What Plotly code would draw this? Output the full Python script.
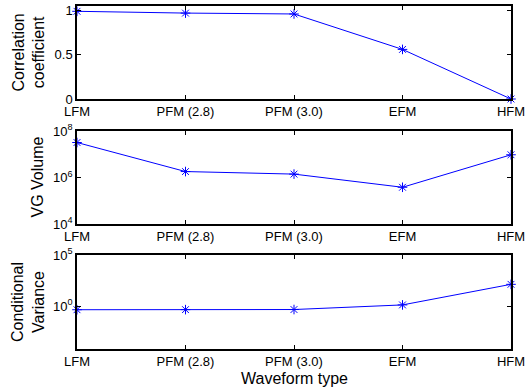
import plotly.graph_objects as go
from plotly.subplots import make_subplots

categories = ["LFM", "PFM (2.8)", "PFM (3.0)", "EFM", "HFM"]
corr = [0.99, 0.97, 0.96, 0.56, 0.0]
vg_volume = [3.2e7, 1.8e6, 1.4e6, 3.8e5, 9.5e6]
cond_var = [0.44, 0.45, 0.46, 1.3, 135]
y_titles = ["Correlation<br>coefficient", "VG Volume", "Conditional<br>Variance"]
x_title = "Waveform type"

W, H = 525, 387
fig = make_subplots(rows=3, cols=1)

def dom_y(top, bot):
    return [1 - bot / H, 1 - top / H]

xs = list(range(len(categories)))
blue = "#0000ff"
font = dict(family="Liberation Sans, Arial, sans-serif", color="black")
for i, vals in enumerate([corr, vg_volume, cond_var]):
    fig.add_trace(go.Scatter(
        x=xs, y=vals, mode="lines+markers",
        line=dict(color=blue, width=1),
        marker=dict(symbol="asterisk-open", size=8, color=blue, line=dict(color=blue, width=1)),
        cliponaxis=False, showlegend=False), row=i + 1, col=1)

xdom = [77 / W, 511 / W]
panels = [(6, 99), (131, 224), (255, 349)]
for i, (t, b) in enumerate(panels):
    r = i + 1
    fig.update_xaxes(domain=xdom, range=[0, 4], tickvals=xs, ticktext=categories,
                     ticks="inside", ticklen=4, tickcolor="black", showline=True,
                     linecolor="black", linewidth=1.5, mirror="ticks", showgrid=False,
                     zeroline=False, automargin=False, ticklabeloverflow="allow",
                     tickfont=dict(size=13, **font), row=r, col=1)
    fig.update_yaxes(domain=dom_y(t, b), ticks="inside", ticklen=4, tickcolor="black",
                     showline=True, linecolor="black", linewidth=1.5, mirror="ticks",
                     showgrid=False, zeroline=False, automargin=False,
                     ticklabeloverflow="allow",
                     tickfont=dict(size=13, **font), row=r, col=1)
    two_line = "<br>" in y_titles[i]
    fig.add_annotation(text=y_titles[i], textangle=-90, xref="paper", yref="paper",
                       x=(28 if two_line else 37) / W, y=1 - (t + b) / 2 / H,
                       xanchor="center", yanchor="middle", showarrow=False,
                       font=dict(size=16, **font))

fig.update_yaxes(range=[0, 1.05], tickvals=[0, 0.5, 1], ticktext=["0", "0.5", "1"],
                 row=1, col=1)
fig.update_yaxes(type="log", range=[4, 8], tickvals=[1e4, 1e6, 1e8],
                 ticktext=["10<sup>4</sup>", "10<sup>6</sup>", "10<sup>8</sup>"],
                 row=2, col=1)
fig.update_yaxes(type="log", range=[-4.2, 5], tickvals=[1, 1e5],
                 ticktext=["10<sup>0</sup>", "10<sup>5</sup>"],
                 row=3, col=1)
fig.add_annotation(text=x_title, xref="paper", yref="paper", x=294 / W, y=1 - 378 / H,
                   xanchor="center", yanchor="middle", showarrow=False,
                   font=dict(size=16, **font))

fig.update_layout(width=W, height=H, margin=dict(l=0, r=0, t=0, b=0),
                  paper_bgcolor="white", plot_bgcolor="white", font=font)
fig.write_html("out.html")
